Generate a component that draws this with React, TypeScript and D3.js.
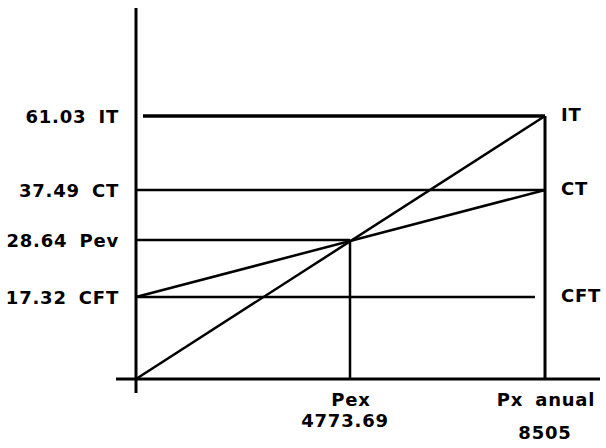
import { useEffect, useRef } from "react";
import * as d3 from "d3";

// cost / revenue levels (printed values)
const levelNames = ["IT", "CT", "Pev", "CFT"];
const levelValues = [61.03, 37.49, 28.64, 17.32];

// production quantities
const qtyNames = ["Pex", "Px anual"];
const qtyValues = [4773.69, 8505];

const width = 606;
const height = 448;

export default function App() {
    const svgRef = useRef<SVGSVGElement>(null);

    useEffect(() => {
        if (!svgRef.current) return;
        const svg = d3.select(svgRef.current);
        svg.selectAll("*").remove();

        const [it, ct, pev, cft] = levelValues;
        const [pex, pxAnual] = qtyValues;

        // schematic (non-proportional) axes, as in the original drawing
        const x = d3
            .scaleLinear()
            .domain([0, pex, pxAnual])
            .range([136, 350, 545]);
        const y = d3
            .scaleLinear()
            .domain([0, cft, pev, ct, it])
            .range([379, 297, 240, 190, 116]);

        const font = "'DejaVu Sans', sans-serif";
        const ink = "#000";

        const line = (x1: number, y1: number, x2: number, y2: number, w = 3) =>
            svg
                .append("line")
                .attr("x1", x1)
                .attr("y1", y1)
                .attr("x2", x2)
                .attr("y2", y2)
                .attr("stroke", ink)
                .attr("stroke-width", w);

        // axes
        line(x(0), 8, x(0), y(0) + 14, 3);
        line(x(0) - 20, y(0), width - 6, y(0), 3);

        // horizontal level lines
        line(x(0) + 7, y(it), x(pxAnual), y(it), 3.5);
        line(x(0), y(ct), x(pxAnual), y(ct), 2.5);
        line(x(0), y(pev), x(pex), y(pev), 2.5);
        line(x(0), y(cft), x(pxAnual) - 10, y(cft), 2.5);

        // verticals
        line(x(pxAnual), y(it), x(pxAnual), y(0), 3);
        line(x(pex), y(pev), x(pex), y(0), 2.5);

        // revenue and total cost lines
        line(x(0), y(0), x(pxAnual), y(it), 2.5);
        line(x(0), y(cft), x(pxAnual), y(ct), 2.5);

        const label = (tx: number, ty: number, anchor: string, s: string) =>
            svg
                .append("text")
                .attr("x", tx)
                .attr("y", ty)
                .attr("text-anchor", anchor)
                .attr("dominant-baseline", "central")
                .attr("font-family", font)
                .attr("font-weight", "bold")
                .attr("font-size", 18)
                .attr("letter-spacing", 0.8)
                .attr("word-spacing", 5)
                .attr("fill", ink)
                .text(s);

        // left labels
        levelNames.forEach((n, i) => {
            label(x(0) - 17, y(levelValues[i]), "end", `${levelValues[i].toFixed(2)} ${n}`);
        });

        // right labels
        ["IT", "CT", "CFT"].forEach((n) => {
            const v = levelValues[levelNames.indexOf(n)];
            label(x(pxAnual) + 16, y(v) - 2, "start", n);
        });

        // bottom labels
        qtyNames.forEach((n, i) => {
            const cx = x(qtyValues[i]);
            label(cx + 1, y(0) + 20, "middle", n);
            label(cx - 5 + i * 5, y(0) + 41 + i * 12, "middle", String(qtyValues[i]));
        });
    }, []);

    return (
        <svg
            ref={svgRef}
            width={width}
            height={height}
            style={{ position: "absolute", left: 0, top: 0, background: "#fff" }}
        ></svg>
    );
}
